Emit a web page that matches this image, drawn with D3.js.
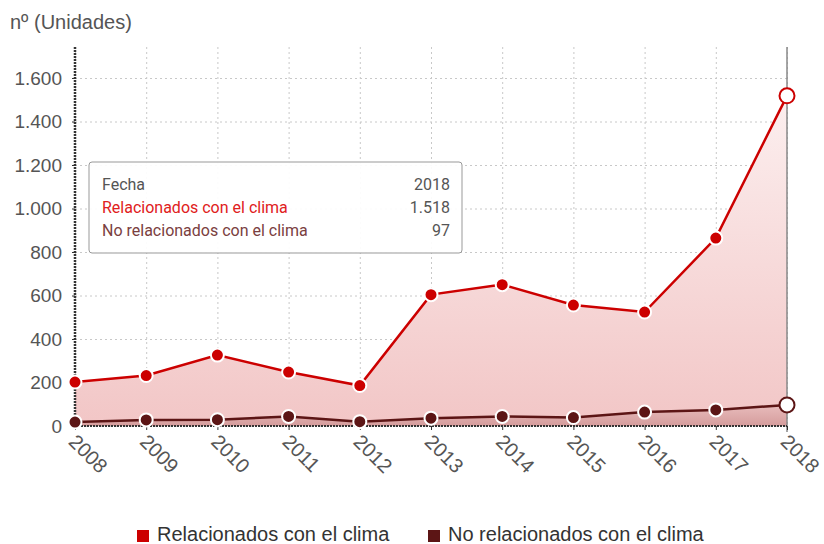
<!DOCTYPE html>
<html>
<head>
<meta charset="utf-8">
<script src="https://cdn.jsdelivr.net/npm/d3@7"></script>
<style>
	body { margin: 0; background: #fff; font-family: Arial, "Liberation Sans", sans-serif; }
	.grid line { stroke: #c8c8c8; stroke-dasharray: 2, 3; }
	.grid path { display: none; }
	.axis text { fill: #555; font-size: 19px; font-family: Arial, "Liberation Sans", sans-serif; }
	.axis.x text { font-size: 20px; }
</style>
</head>
<body>
<div id="chart"></div>
<script>
var years = [2008, 2009, 2010, 2011, 2012, 2013, 2014, 2015, 2016, 2017, 2018];
var relacionados = [202, 232, 326, 248, 186, 604, 650, 556, 524, 864, 1518];
var noRelacionados = [18, 28, 29, 44, 20, 36, 44, 39, 64, 74, 97];
var yTicks = [0, 200, 400, 600, 800, 1000, 1200, 1400, 1600];
var seriesNames = ['Relacionados con el clima', 'No relacionados con el clima'];
var seriesColors = ['#cc0000', '#5c1515'];

var width = 824, height = 544;
var svg = d3.select('#chart').append('svg').attr('width', width).attr('height', height);

var fmt = d3.formatLocale({ decimal: ',', thousands: '.', grouping: [3], currency: ['', '€'] }).format(',');

var xScale = d3.scaleLinear().domain([2008, 2018]).range([75, 787]);
var yScale = d3.scaleLinear().domain([0, 1600]).range([426, 78]);
var plotTop = 47;

var defs = svg.append('defs');
var g1 = defs.append('linearGradient').attr('id', 'gradRed').attr('x1', 0).attr('y1', 0).attr('x2', 0).attr('y2', 1);
g1.append('stop').attr('offset', '0%').attr('stop-color', '#fcefef');
g1.append('stop').attr('offset', '100%').attr('stop-color', '#f2c6c6');
var g2 = defs.append('linearGradient').attr('id', 'gradDark').attr('x1', 0).attr('y1', 0).attr('x2', 0).attr('y2', 1);
g2.append('stop').attr('offset', '0%').attr('stop-color', '#e8bcbc');
g2.append('stop').attr('offset', '100%').attr('stop-color', '#d59c9c');

// grid
svg.append('g').attr('class', 'grid')
	.call(d3.axisBottom(xScale).tickValues(years).tickSize(0).tickFormat(''))
	.selectAll('.tick line')
	.attr('y1', plotTop).attr('y2', 426);

svg.append('g').attr('class', 'grid')
	.attr('transform', 'translate(75,0)')
	.call(d3.axisLeft(yScale).tickValues(yTicks).tickSize(-(787 - 75)).tickFormat(''));

// areas
var data = years.map(function(y, i) { return { year: y, a: relacionados[i], b: noRelacionados[i] }; });

var areaA = d3.area().x(function(d) { return xScale(d.year); }).y0(yScale(0)).y1(function(d) { return yScale(d.a); });
var areaB = d3.area().x(function(d) { return xScale(d.year); }).y0(yScale(0)).y1(function(d) { return yScale(d.b); });
var lineA = d3.line().x(function(d) { return xScale(d.year); }).y(function(d) { return yScale(d.a); });
var lineB = d3.line().x(function(d) { return xScale(d.year); }).y(function(d) { return yScale(d.b); });

svg.append('path').attr('d', areaA(data)).attr('fill', 'url(#gradRed)');
svg.append('path').attr('d', areaB(data)).attr('fill', 'url(#gradDark)');

// crosshair on hovered year
svg.append('line')
	.attr('x1', xScale(2018)).attr('x2', xScale(2018))
	.attr('y1', plotTop).attr('y2', 432)
	.attr('stroke', '#888').attr('stroke-width', 1.5);

svg.append('path').attr('d', lineA(data)).attr('fill', 'none').attr('stroke', seriesColors[0]).attr('stroke-width', 2.5);
svg.append('path').attr('d', lineB(data)).attr('fill', 'none').attr('stroke', seriesColors[1]).attr('stroke-width', 2.5);

// axes
var yAxisG = svg.append('g').attr('class', 'axis')
	.attr('transform', 'translate(75,0)')
	.call(d3.axisLeft(yScale).tickValues(yTicks).tickSize(3).tickPadding(10).tickFormat(fmt));
yAxisG.select('.domain').remove();
yAxisG.selectAll('.tick line').attr('stroke', '#333');
svg.append('line').attr('x1', 75).attr('x2', 75).attr('y1', plotTop).attr('y2', 428)
	.attr('stroke', '#333').attr('stroke-width', 2.5).attr('stroke-dasharray', '2,1');

var xAxisG = svg.append('g').attr('class', 'axis x')
	.attr('transform', 'translate(0,426)')
	.call(d3.axisBottom(xScale).tickValues(years).tickSize(4).tickFormat(d3.format('d')));
xAxisG.select('.domain').remove();
xAxisG.selectAll('.tick line').attr('stroke', '#333');
xAxisG.selectAll('.tick text')
	.attr('text-anchor', 'start')
	.attr('dy', 0)
	.attr('transform', 'translate(-3,12) rotate(45)');
svg.append('line').attr('x1', 75).attr('x2', 787).attr('y1', 426).attr('y2', 426)
	.attr('stroke', '#333').attr('stroke-width', 2).attr('stroke-dasharray', '2,1');

// points
function drawPoints(key, color) {
	svg.selectAll('.pt-' + key).data(data).enter().append('circle')
		.attr('cx', function(d) { return xScale(d.year); })
		.attr('cy', function(d) { return yScale(d[key]); })
		.attr('r', function(d) { return d.year === 2018 ? 7.5 : 6.5; })
		.attr('fill', function(d) { return d.year === 2018 ? '#fff' : color; })
		.attr('stroke', function(d) { return d.year === 2018 ? color : '#fff'; })
		.attr('stroke-width', 2);
}
drawPoints('a', seriesColors[0]);
drawPoints('b', seriesColors[1]);

// unit title
svg.append('text').attr('x', 10).attr('y', 29)
	.attr('fill', '#555').attr('font-size', 20).text('nº (Unidades)');

// tooltip
var tip = svg.append('g').attr('transform', 'translate(89,162)');
tip.append('rect').attr('width', 373).attr('height', 91).attr('rx', 3)
	.attr('fill', 'rgba(255,255,255,0.92)').attr('stroke', '#999');
var last = data[data.length - 1];
var rows = [
	['Fecha', String(last.year), '#555'],
	[seriesNames[0], fmt(last.a), '#e02020'],
	[seriesNames[1], fmt(last.b), '#7a4040']
];
rows.forEach(function(r, i) {
	tip.append('text').attr('x', 13).attr('y', 28 + i * 23)
		.attr('font-family', 'Roboto, Arial, sans-serif').attr('font-size', 16)
		.attr('fill', r[2]).text(r[0]);
	tip.append('text').attr('x', 361).attr('y', 28 + i * 23).attr('text-anchor', 'end')
		.attr('font-family', 'Roboto, Arial, sans-serif').attr('font-size', 16)
		.attr('fill', '#555').text(r[1]);
});

// legend
var legend = svg.append('g').attr('transform', 'translate(0,535)');
var lx = [137, 428];
seriesNames.forEach(function(name, i) {
	legend.append('rect').attr('x', lx[i]).attr('y', -5).attr('width', 12).attr('height', 12).attr('fill', seriesColors[i]);
	legend.append('text').attr('x', lx[i] + 20).attr('y', 6)
		.attr('font-size', 20).attr('fill', '#333').text(name);
});
</script>
</body>
</html>
